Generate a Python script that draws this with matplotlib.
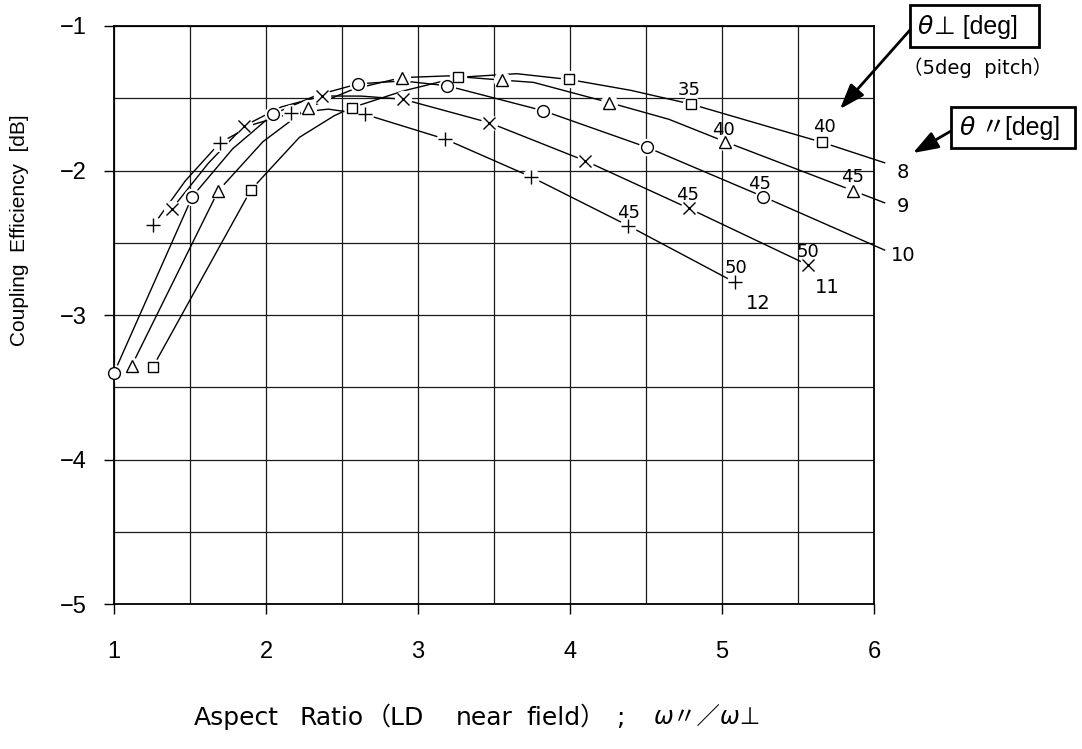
import matplotlib
matplotlib.use("Agg")
import matplotlib.pyplot as plt
from matplotlib.patches import Rectangle, FancyArrowPatch

# ---- data ----
# theta_par = 8 (squares)
sq_x = [1.255, 1.90, 2.565, 3.265, 3.995, 4.795, 5.66]
sq_y = [-3.36, -2.135, -1.565, -1.355, -1.37, -1.54, -1.805]
sq_line_x = [1.255, 1.90, 2.0, 2.22, 2.45, 2.565, 2.9, 3.265, 3.65, 3.995, 4.4, 4.795, 5.66, 6.07]
sq_line_y = [-3.36, -2.135, -2.02, -1.77, -1.62, -1.565, -1.45, -1.355, -1.33, -1.37, -1.445, -1.54, -1.805, -1.946]

# theta_par = 9 (triangles)
tri_x = [1.116, 1.686, 2.278, 2.893, 3.551, 4.259, 5.02, 5.864]
tri_y = [-3.35, -2.14, -1.565, -1.357, -1.374, -1.53, -1.80, -2.14]
tri_line_x = [1.116, 1.686, 1.98, 2.278, 2.58, 2.893, 3.2, 3.551, 3.76, 4.259, 4.65, 5.02, 5.864, 6.07]
tri_line_y = [-3.35, -2.14, -1.80, -1.565, -1.435, -1.357, -1.345, -1.374, -1.39, -1.53, -1.645, -1.80, -2.14, -2.223]

# theta_par = 10 (circles)
cir_x = [1.0, 1.515, 2.048, 2.607, 3.189, 3.824, 4.509, 5.27]
cir_y = [-3.40, -2.18, -1.609, -1.40, -1.413, -1.586, -1.84, -2.18]
cir_line_x = [1.0, 1.515, 1.78, 2.048, 2.33, 2.607, 2.9, 3.189, 3.824, 4.509, 5.27, 6.07]
cir_line_y = [-3.40, -2.18, -1.85, -1.609, -1.48, -1.40, -1.38, -1.413, -1.586, -1.84, -2.18, -2.55]

# theta_par = 11 (crosses)
crs_x = [1.38, 1.855, 2.37, 2.903, 3.469, 4.099, 4.783, 5.568]
crs_y = [-2.266, -1.692, -1.484, -1.507, -1.669, -1.932, -2.262, -2.654]
crs_line_x = [1.38, 1.62, 1.855, 2.1, 2.37, 2.63, 2.903, 3.469, 4.099, 4.783, 5.568]
crs_line_y = [-2.266, -1.95, -1.692, -1.56, -1.484, -1.485, -1.507, -1.669, -1.932, -2.262, -2.654]

# theta_par = 12 (plus)
pls_x = [1.259, 1.697, 2.163, 2.651, 3.178, 3.743, 4.384, 5.086]
pls_y = [-2.377, -1.807, -1.604, -1.611, -1.782, -2.043, -2.382, -2.774]
pls_line_x = [1.259, 1.47, 1.697, 1.92, 2.163, 2.41, 2.651, 3.178, 3.743, 4.384, 5.086]
pls_line_y = [-2.377, -2.07, -1.807, -1.68, -1.604, -1.575, -1.611, -1.782, -2.043, -2.382, -2.774]

# theta_perp labels on the curves
angle_text = ["35", "40", "40", "45", "45", "45", "50", "45", "50"]
angle_x = [4.783, 5.671, 5.007, 5.862, 5.25, 4.776, 5.566, 4.388, 5.092]
angle_y = [-1.443, -1.699, -1.72, -2.045, -2.093, -2.17, -2.564, -2.294, -2.675]

# theta_par labels at curve ends
par_text = ["8", "9", "10", "11", "12"]
par_x = [6.19, 6.19, 6.19, 5.69, 5.237]
par_y = [-2.01, -2.25, -2.585, -2.81, -2.92]

# x axis title, word by word (left edge in pixels)
xlab_words = ["Aspect", "Ratio", "（LD", "near", "field）", ";"]
xlab_left = [194, 300, 366, 456, 526, 616]

W, H = 1082, 749


def fx(px):
    return px / W


def fy(py):
    return 1 - py / H


fig = plt.figure(figsize=(W / 100, H / 100), dpi=100)
ax = fig.add_axes([fx(114), fy(604.3), (874 - 114) / W, (604.3 - 26) / H])

ax.set_xlim(1, 6)
ax.set_ylim(-5, -1)
ax.set_xticks([1, 2, 3, 4, 5, 6])
ax.set_xticks([1.5, 2.5, 3.5, 4.5, 5.5], minor=True)
ax.set_yticks([-5, -4, -3, -2, -1])
ax.set_yticks([-4.5, -3.5, -2.5, -1.5], minor=True)
ax.grid(True, which="both", color="#1a1a1a", linewidth=0.9)
ax.tick_params(which="major", direction="out", length=7.5, width=1.0,
               labelsize=17, pad=12)
ax.tick_params(axis="x", which="major", pad=19)
ax.tick_params(which="minor", length=0)
for lab in ax.get_xticklabels() + ax.get_yticklabels():
    lab.set_family("Liberation Sans")
for sp in ax.spines.values():
    sp.set_linewidth(1.3)
    sp.set_zorder(3.5)

series = [
    (sq_line_x, sq_line_y, sq_x, sq_y, "s", 7.8),
    (tri_line_x, tri_line_y, tri_x, tri_y, "^", 8.0),
    (cir_line_x, cir_line_y, cir_x, cir_y, "o", 8.5),
    (crs_line_x, crs_line_y, crs_x, crs_y, "x", 9.0),
    (pls_line_x, pls_line_y, pls_x, pls_y, "+", 9.5),
]

for lx, ly, mx, my, mk, ms in series:
    ax.plot(lx, ly, color="black", linewidth=1.0, zorder=2, clip_on=False)
    # white halo so the lines break around each point
    ax.plot(mx, my, "o", markersize=12.5, markerfacecolor="white",
            markeredgecolor="none", zorder=3, clip_on=False)
    ax.plot(mx, my, mk, markersize=ms, markerfacecolor="white",
            markeredgecolor="black", markeredgewidth=1.0, zorder=4,
            clip_on=False)

for t, x, y in zip(angle_text, angle_x, angle_y):
    ax.text(x, y, t, fontsize=13, ha="center", va="center", zorder=5,
            family="DejaVu Sans")

for t, x, y in zip(par_text, par_x, par_y):
    ax.text(x, y, t, fontsize=14, ha="center", va="center", zorder=5,
            family="DejaVu Sans", clip_on=False)

# axis titles
fig.text(fx(20), fy(230), "Coupling  Efficiency  [dB]", rotation=90,
         ha="center", va="center", fontsize=15, family="Liberation Sans")
for w, px in zip(xlab_words, xlab_left):
    fig.text(fx(px), fy(718), w, ha="left", va="center", fontsize=18,
             family=["DejaVu Sans", "Noto Sans CJK JP"])
fig.text(fx(654), fy(718), "ω〃／ω⊥", ha="left", va="center", fontsize=17,
         style="italic", family=["DejaVu Sans", "Noto Sans CJK JP"])

# legend boxes with arrows
fig.add_artist(Rectangle((fx(910), fy(47)), (1039 - 910) / W, (47 - 5) / H,
                         transform=fig.transFigure, fill=False,
                         edgecolor="black", linewidth=2))
fig.text(fx(918), fy(27), "θ", ha="left", va="center", fontsize=18,
         style="italic", family="DejaVu Sans")
fig.text(fx(934), fy(27), "⊥ [deg]", ha="left", va="center", fontsize=18,
         family=["Liberation Sans", "DejaVu Sans"])
fig.text(fx(978), fy(68), "（5deg  pitch）", ha="center", va="center",
         fontsize=14, family=["DejaVu Sans", "Noto Sans CJK JP"])

fig.add_artist(Rectangle((fx(951), fy(148)), (1075 - 951) / W, (148 - 107) / H,
                         transform=fig.transFigure, fill=False,
                         edgecolor="black", linewidth=2))
fig.text(fx(960), fy(128), "θ", ha="left", va="center", fontsize=18,
         style="italic", family="DejaVu Sans")
fig.text(fx(980), fy(128), "〃[deg]", ha="left", va="center", fontsize=18,
         family=["Liberation Sans", "Noto Sans CJK JP"])

for (x0, y0), (x1, y1) in [((910, 30), (840, 109)), ((951, 131), (913, 153))]:
    fig.add_artist(FancyArrowPatch((fx(x0), fy(y0)), (fx(x1), fy(y1)),
                                   transform=fig.transFigure,
                                   arrowstyle="-|>,head_length=0.9,head_width=0.32",
                                   mutation_scale=17, linewidth=2,
                                   color="black", shrinkA=0, shrinkB=0))

fig.savefig("out.png", dpi=100)
